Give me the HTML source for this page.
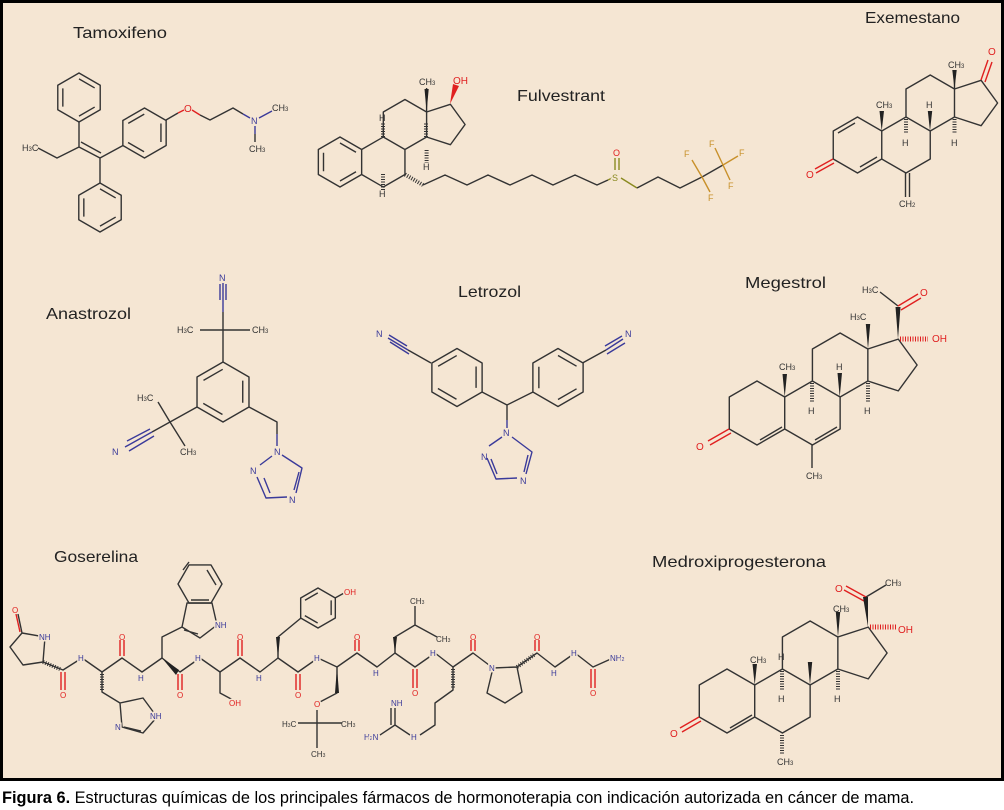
<!DOCTYPE html>
<html><head><meta charset="utf-8"><style>
html,body{margin:0;padding:0;background:#fff;}
svg{display:block;}
text{font-family:"Liberation Sans",sans-serif;}
.t{font-size:16px;fill:#222;}
.l{font-size:9px;fill:#333;}
.n{font-size:9px;fill:#3a3a9a;}
.o{font-size:10px;fill:#e02020;}
.lab{paint-order:stroke;stroke:#f5e6d3;stroke-width:3px;}
</style></head><body>
<svg width="1004" height="810" viewBox="0 0 1004 810" xmlns="http://www.w3.org/2000/svg">
<defs>
<path id="hexp" d="M0,-1 L.866,-.5 L.866,.5 L0,1 L-.866,.5 L-.866,-.5 Z"/>
<path id="bzin" d="M0,-.76 L.64,-.39 M.64,.39 L0,.76 M-.66,.37 L-.66,-.37"/>
<path id="ster" d="M0,-1 L.866,-.5 L.866,.5 L0,1 L-.866,.5 L-.866,-.5 Z M.866,-.5 L1.732,-1 L2.598,-.5 L2.598,.5 L1.732,1 L.866,.5 M1.732,-1 L1.732,-2 L2.598,-2.5 L3.464,-2 L3.464,-1 L2.598,-.5 M3.464,-2 L4.415,-2.309 L5.003,-1.5 L4.415,-.691 L3.464,-1"/>
</defs>
<rect x="1.5" y="1.5" width="1001" height="778" fill="#f5e6d3" stroke="#000" stroke-width="3"/>

<g fill="none" stroke="#333" stroke-width="1.4" stroke-linejoin="round">
<!-- Tamoxifen -->
<use href="#hexp" transform="translate(79,97.5) scale(24.5)" stroke-width=".057"/>
<use href="#bzin" transform="translate(79,97.5) scale(24.5)" stroke-width=".057"/>
<use href="#hexp" transform="translate(100,207.5) scale(24.5)" stroke-width=".057"/>
<use href="#bzin" transform="translate(100,207.5) scale(24.5)" stroke-width=".057"/>
<use href="#hexp" transform="translate(144.5,133) scale(25)" stroke-width=".056"/>
<use href="#bzin" transform="translate(144.5,133) scale(25) rotate(60)" stroke-width=".056"/>
<path d="M79,122 L79,147 L100,158 L100,183 M81,142 L101,153 M79,147 L57,158 L38,148 M100,158 L123,145.5"/>
<path d="M166,120 L178,113" stroke="#333"/><path d="M178,113 L184,110 M192,110 L200,115" stroke="#e02020"/>
<path d="M200,115 L210,120 L233,108 L243,114"/><path d="M243,114 L250,118 M259,118 L272,111 M255,126 L255,134" stroke="#3a3a9a"/><path d="M255,134 L255,142"/>
<!-- Fulvestrant -->
<use href="#ster" transform="translate(340,162) scale(25)" stroke-width=".056"/>
<use href="#bzin" transform="translate(340,162) scale(25)" stroke-width=".056"/>
<path d="M426.6,112 L426.6,88"/>
<path d="M423,185 L445,175 L467,185 L488,175 L510,185 L532,175 L553,185 L575,175 L597,185 L608,180"/>
<path d="M608,180 L612,178 M621,178 L637,188" stroke="#8a8a20"/>
<path d="M637,188 L658,177 L680,188 L702,177 L723,165"/>
<path d="M615,170 L615,158 M619,170 L619,158" stroke="#8a8a20"/>
<path d="M702,177 L692,160 M702,177 L710,192 M723,165 L715,148 M723,165 L738,156 M723,165 L730,180" stroke="#c8902a"/>
<path d="M405,174.5 L423,185" stroke-dasharray="1 1.5" stroke-width="4"/>
<path d="M383,137 L383,123" stroke-dasharray="1 1.5" stroke-width="4"/>
<path d="M426,137 L426,123" stroke-dasharray="1 1.5" stroke-width="4"/>
<path d="M383,174 L383,190" stroke-dasharray="1 1.5" stroke-width="4"/>
<path d="M426.6,150 L426.6,163" stroke-dasharray="1 1.5" stroke-width="4"/>
<!-- Exemestane -->
<use href="#ster" transform="translate(857.5,145) scale(28)" stroke-width=".05"/>
<path d="M855,123 L838,133 M860,167 L877,157"/>
<path d="M833,159 L815,169 M834,163 L816,173" stroke="#e02020"/>
<path d="M905.5,173 L905.5,197 M909.5,173 L909.5,197"/>
<path d="M954.5,89 L954.5,70"/>
<path d="M981,80 L988,60 M985,82 L992,62" stroke="#e02020"/>
<path d="M906,119 L906,134 M954.5,119 L954.5,134" stroke-dasharray="1 1.5" stroke-width="4"/>
<!-- Megestrol -->
<use href="#ster" transform="translate(757,413) scale(32)" stroke-width=".044"/>
<path d="M760,440 L782,427 M815,440 L837,427"/>
<path d="M729,429 L708,441 M731,433 L710,445" stroke="#e02020"/>
<path d="M812,445 L812,468 M898,306 L880,292"/>
<path d="M898,306 L918,294 M901,310 L921,298" stroke="#e02020"/>
<path d="M812,383 L812,402 M868,383 L868,402" stroke-dasharray="1 1.5" stroke-width="4"/>
<path d="M900,339 L928,339" stroke="#e02020" stroke-dasharray="1 1.5" stroke-width="5"/>
<!-- Medroxi -->
<use href="#ster" transform="translate(727,701) scale(32)" stroke-width=".044"/>
<path d="M730,728 L752,715"/>
<path d="M699,717 L680,728 M701,721 L682,732" stroke="#e02020"/>
<path d="M866,597 L886,585"/>
<path d="M866,597 L846,586 M864,601 L844,590" stroke="#e02020"/>
<path d="M782,735 L782,754 M782,671 L782,690 M838,671 L838,690" stroke-dasharray="1 1.5" stroke-width="4"/>
<path d="M870,627 L896,627" stroke="#e02020" stroke-dasharray="1 1.5" stroke-width="5"/>
<!-- Anastrozol -->
<use href="#hexp" transform="translate(223,392) scale(30)" stroke-width=".047"/>
<use href="#bzin" transform="translate(223,392) scale(30) rotate(60)" stroke-width=".047"/>
<path d="M223,362 L223,330 L200,330 M223,330 L250,330 M223,330 L223,312 M197,407 L170,422 L158,402 M170,422 L185,446 M170,422 L152,432 M249,407 L277,422 L277,434"/>
<path d="M223,312 L223,283 M220,300 L220,284 M226,300 L226,284 M152,432 L125,447 M150,429 L127,441 M154,436 L129,451" stroke="#3a3a9a"/>
<path d="M277,434 L277,446 M282,455 L302,468 L296,493 M287,497 L266,498 L257,477 M260,465 L272,456 M299,472 L294,490 M264,478 L270,493" stroke="#3a3a9a"/>
<!-- Letrozol -->
<use href="#hexp" transform="translate(457,377.5) scale(29)" stroke-width=".048"/>
<use href="#bzin" transform="translate(457,377.5) scale(29) rotate(60)" stroke-width=".048"/>
<use href="#hexp" transform="translate(558,377.5) scale(29)" stroke-width=".048"/>
<use href="#bzin" transform="translate(558,377.5) scale(29)" stroke-width=".048"/>
<path d="M482,392 L507,405 L533,392 M507,405 L507,420 M431,363 L408,350 M582.5,363 L606,350"/>
<path d="M507,420 L507,428 M512,437 L532,452 L526,474 M517,478 L496,479 L487,458 M489,446 L502,437 M528,455 L524,472 M491,459 L497,474 M408,350 L388,338 M407,346 L389,335 M409,354 L390,342 M606,350 L623,339 M605,346 L622,336 M607,354 L625,343" stroke="#3a3a9a"/>
<!-- Goserelina -->
<path d="M43,662 L63,670 L82,658 L102,672 L122,658 L142,672 L162,658 L180,672 L200,658 L220,672 L240,658 L260,672 L278,658 L298,672 L318,658 L337,667 L357,653 L377,667 L395,653 L415,667 L435,653 L453,667 L473,653 L493,668 L487,693 L505,703 L522,692 L517,667 L493,668 M517,667 L537,653 L555,667 L575,653 L593,667 L613,658"/>
<path d="M22,633 L45,637 L43,662 L23,665 L10,647 Z M22,633 L18,614"/>
<path d="M61,672 L61,690 M65,672 L65,690 M120,656 L120,640 M124,656 L124,640 M178,674 L178,690 M182,674 L182,690 M238,656 L238,640 M242,656 L242,640 M296,674 L296,690 M300,674 L300,690 M355,651 L355,640 M359,651 L359,640 M413,669 L413,688 M417,669 L417,688 M471,651 L471,640 M475,651 L475,640 M535,651 L535,640 M539,651 L539,640 M591,669 L591,688 M595,669 L595,688 M20,632 L16,614" stroke="#e02020"/>
<path d="M102,672 L102,692 L120,703 L143,698 L157,717 L143,733 L122,727 L120,703 M124,727 L141,731"/>
<path d="M162,658 L162,637 L182,627 L187,603 L212,603 L217,625 L200,638 L182,627 M184,630 L198,634"/>
<use href="#hexp" transform="translate(200,584) scale(22) rotate(30)" stroke-width=".064"/>
<path d="M191,600 L209,600 M216,585 L207,570 M183,570 L189,562"/>
<path d="M220,672 L220,693 L233,700 M278,658 L278,637 L301,618"/>
<use href="#hexp" transform="translate(318,608) scale(20)" stroke-width=".07"/>
<use href="#bzin" transform="translate(318,608) scale(20) rotate(60)" stroke-width=".07"/>
<path d="M335,598 L346,592"/>
<path d="M337,667 L337,693 L318,703 M317,710 L317,748 M317,723 L298,723 M317,723 L342,723"/>
<path d="M395,653 L395,637 L415,625 L415,606 M415,625 L437,637"/>
<path d="M453,667 L453,690 L435,703 L435,725 L420,735 M410,735 L395,725 L395,708 M391,725 L391,708 M395,725 L380,735"/>
<path d="M517,667 L534,655" stroke-dasharray="1 1.5" stroke-width="4"/>
<path d="M43,662 L60,669" stroke-dasharray="1 1.5" stroke-width="4"/>
<path d="M102,674 L102,690 M453,669 L453,688" stroke-dasharray="1 1.5" stroke-width="4"/>
</g>

<!-- filled wedges -->
<g fill="#222">
<polygon points="426.6,112 424.5,89 428.7,89"/>
<polygon points="450,104 453,84 459,86" fill="#e02020"/>
<polygon points="881.7,131 879.5,111 884,111"/>
<polygon points="954.5,89 952.3,70 956.7,70"/>
<polygon points="930,131 927.8,111 932.2,111"/>
<polygon points="784.7,397 782.5,374 787,374"/>
<polygon points="868,349 865.8,324 870.2,324"/>
<polygon points="898,339 895.5,307 900.5,307"/>
<polygon points="839.7,397 837.5,373 842,373"/>
<polygon points="754.7,685 752.5,664 757,664"/>
<polygon points="838,637 835.8,612 840.2,612"/>
<polygon points="868,627 863,597 868,597"/>
<polygon points="810,685 807.8,662 812.2,662"/>
<polygon points="162,658 179,670 176,675"/>
<polygon points="278,658 276,637 280,637"/>
<polygon points="337,667 335,693 339,693"/>
<polygon points="395,653 393,637 397,637"/>
</g>

<!-- labels -->
<g>
<text class="t" x="73" y="38" textLength="94" lengthAdjust="spacingAndGlyphs">Tamoxifeno</text>
<text class="t" x="517" y="101" textLength="88" lengthAdjust="spacingAndGlyphs">Fulvestrant</text>
<text class="t" x="865" y="23" textLength="95" lengthAdjust="spacingAndGlyphs">Exemestano</text>
<text class="t" x="46" y="319" textLength="85" lengthAdjust="spacingAndGlyphs">Anastrozol</text>
<text class="t" x="458" y="297" textLength="63" lengthAdjust="spacingAndGlyphs">Letrozol</text>
<text class="t" x="745" y="288" textLength="81" lengthAdjust="spacingAndGlyphs">Megestrol</text>
<text class="t" x="54" y="562" textLength="84" lengthAdjust="spacingAndGlyphs">Goserelina</text>
<text class="t" x="652" y="567" textLength="174" lengthAdjust="spacingAndGlyphs">Medroxiprogesterona</text>

<text class="l" x="22" y="151">H<tspan font-size="6">3</tspan>C</text>
<text class="o" x="184" y="112">O</text>
<text class="n" x="251" y="124">N</text>
<text class="l" x="272" y="111">CH<tspan font-size="6">3</tspan></text>
<text class="l" x="249" y="152">CH<tspan font-size="6">3</tspan></text>

<text class="l" x="419" y="85">CH<tspan font-size="6">3</tspan></text>
<text class="o" x="453" y="84">OH</text>
<text class="l" x="379" y="121">H</text><text class="l" x="379" y="197">H</text><text class="l" x="423" y="170">H</text>
<text class="l lab" x="612" y="181" style="fill:#8a8a20">S</text>
<text class="o" x="613" y="156" style="font-size:9px">O</text>
<g style="font-size:9px;fill:#c8902a"><text x="684" y="157">F</text><text x="708" y="201">F</text><text x="709" y="147">F</text><text x="739" y="156">F</text><text x="728" y="189">F</text></g>

<text class="l" x="876" y="108">CH<tspan font-size="6">3</tspan></text>
<text class="l" x="948" y="68">CH<tspan font-size="6">3</tspan></text>
<text class="o" x="988" y="55">O</text>
<text class="o" x="806" y="178">O</text>
<text class="l" x="899" y="207">CH<tspan font-size="6">2</tspan></text>
<text class="l" x="926" y="108">H</text><text class="l" x="902" y="146">H</text><text class="l" x="951" y="146">H</text>

<text class="l" x="779" y="370">CH<tspan font-size="6">3</tspan></text>
<text class="l" x="850" y="320">H<tspan font-size="6">3</tspan>C</text>
<text class="l" x="862" y="293">H<tspan font-size="6">3</tspan>C</text>
<text class="o" x="920" y="296">O</text>
<text class="o" x="932" y="342">OH</text>
<text class="o" x="696" y="450">O</text>
<text class="l" x="806" y="479">CH<tspan font-size="6">3</tspan></text>
<text class="l" x="836" y="370">H</text><text class="l" x="808" y="414">H</text><text class="l" x="864" y="414">H</text>

<text class="l" x="750" y="663">CH<tspan font-size="6">3</tspan></text>
<text class="l" x="833" y="612">CH<tspan font-size="6">3</tspan></text>
<text class="o" x="835" y="592">O</text>
<text class="l" x="885" y="586">CH<tspan font-size="6">3</tspan></text>
<text class="o" x="898" y="633">OH</text>
<text class="o" x="670" y="737">O</text>
<text class="l" x="777" y="765">CH<tspan font-size="6">3</tspan></text>
<text class="l" x="778" y="660">H</text><text class="l" x="778" y="702">H</text><text class="l" x="834" y="702">H</text>

<text class="n" x="219" y="281">N</text>
<text class="l" x="177" y="333">H<tspan font-size="6">3</tspan>C</text>
<text class="l" x="252" y="333">CH<tspan font-size="6">3</tspan></text>
<text class="l" x="137" y="401">H<tspan font-size="6">3</tspan>C</text>
<text class="l" x="180" y="455">CH<tspan font-size="6">3</tspan></text>
<text class="n" x="112" y="455">N</text>
<text class="n" x="274" y="455">N</text>
<text class="n" x="289" y="503">N</text>
<text class="n" x="250" y="474">N</text>

<text class="n" x="376" y="337">N</text>
<text class="n" x="625" y="337">N</text>
<text class="n" x="503" y="436">N</text>
<text class="n" x="520" y="484">N</text>
<text class="n" x="481" y="460">N</text>

<g class="lab">
<text class="n" x="39" y="640" style="font-size:8px">NH</text>
<text class="n" x="78" y="661" style="font-size:8px">H</text>
<text class="n" x="138" y="681" style="font-size:8px">H</text>
<text class="n" x="195" y="661" style="font-size:8px">H</text>
<text class="n" x="256" y="681" style="font-size:8px">H</text>
<text class="n" x="314" y="661" style="font-size:8px">H</text>
<text class="n" x="373" y="676" style="font-size:8px">H</text>
<text class="n" x="430" y="656" style="font-size:8px">H</text>
<text class="n" x="489" y="671" style="font-size:8px">N</text>
<text class="n" x="551" y="676" style="font-size:8px">H</text>
<text class="n" x="571" y="656" style="font-size:8px">H</text>
<text class="n" x="150" y="719" style="font-size:8px">NH</text>
<text class="n" x="115" y="730" style="font-size:8px">N</text>
<text class="n" x="215" y="628" style="font-size:8px">NH</text>
<text class="n" x="411" y="740" style="font-size:8px">H</text>
<text class="n" x="391" y="706" style="font-size:8px">NH</text>
<text class="n" x="364" y="740" style="font-size:8px">H<tspan font-size="5">2</tspan>N</text>
<text class="n" x="610" y="661" style="font-size:8px">NH<tspan font-size="5">2</tspan></text>
<text class="o" x="229" y="706" style="font-size:8px">OH</text>
<text class="o" x="314" y="707" style="font-size:8px">O</text>
<text class="o" x="344" y="595" style="font-size:8px">OH</text>
</g>
<g style="font-size:8px;fill:#e02020">
<text x="12" y="613">O</text><text x="60" y="698">O</text><text x="119" y="640">O</text><text x="177" y="698">O</text><text x="237" y="640">O</text><text x="295" y="698">O</text><text x="354" y="640">O</text><text x="412" y="696">O</text><text x="470" y="640">O</text><text x="534" y="640">O</text><text x="590" y="696">O</text>
</g>
<text class="l" x="410" y="604" style="font-size:8px">CH<tspan font-size="5">3</tspan></text>
<text class="l" x="436" y="642" style="font-size:8px">CH<tspan font-size="5">3</tspan></text>
<text class="l" x="282" y="727" style="font-size:8px">H<tspan font-size="5">3</tspan>C</text>
<text class="l" x="341" y="727" style="font-size:8px">CH<tspan font-size="5">3</tspan></text>
<text class="l" x="311" y="757" style="font-size:8px">CH<tspan font-size="5">3</tspan></text>

<text x="2" y="803" font-size="17" fill="#000" textLength="912" lengthAdjust="spacingAndGlyphs"><tspan font-weight="bold">Figura 6.</tspan> Estructuras químicas de los principales fármacos de hormonoterapia con indicación autorizada en cáncer de mama.</text>
</g>
</svg>
</body></html>
